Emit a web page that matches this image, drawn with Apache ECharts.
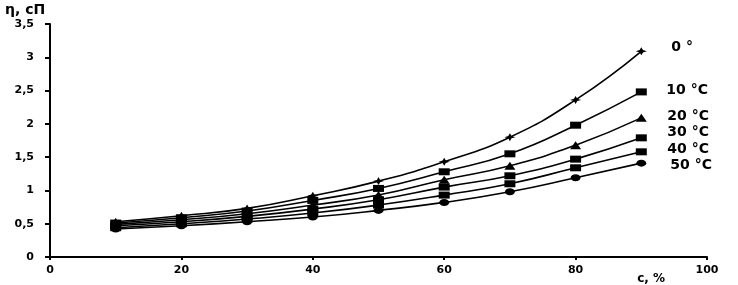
<!DOCTYPE html>
<html><head><meta charset="utf-8">
<script src="https://cdn.jsdelivr.net/npm/echarts@6/dist/echarts.min.js"></script>
<style>html,body{margin:0;padding:0;background:#fff}#c{width:738px;height:285px}</style>
</head><body><div id="c"></div>
<script>
const concentrations = [10, 20, 30, 40, 50, 60, 70, 80, 90];
const seriesNames = ['0 °', '10 °C', '20 °C', '30 °C', '40 °C', '50 °C'];
const v0  = [0.53, 0.62, 0.73, 0.92, 1.14, 1.43, 1.80, 2.36, 3.09];
const v10 = [0.51, 0.59, 0.69, 0.85, 1.03, 1.28, 1.55, 1.98, 2.48];
const v20 = [0.49, 0.56, 0.65, 0.78, 0.93, 1.16, 1.37, 1.68, 2.09];
const v30 = [0.47, 0.53, 0.61, 0.72, 0.86, 1.05, 1.22, 1.47, 1.79];
const v40 = [0.44, 0.50, 0.57, 0.66, 0.78, 0.93, 1.10, 1.34, 1.58];
const v50 = [0.42, 0.47, 0.53, 0.60, 0.70, 0.82, 0.98, 1.19, 1.41];
const yTickLabels = ['0', '0,5', '1', '1,5', '2', '2,5', '3', '3,5'];
const xTickLabels = ['0', '20', '40', '60', '80', '100'];

const values = [v0, v10, v20, v30, v40, v50];
const star = 'path://M0,-10 L3,-3 L10,0 L3,3 L0,10 L-3,3 L-10,0 L-3,-3 Z';
const symbols = [star, 'rect', 'triangle', 'rect', 'rect', 'circle'];
const symSizes = [[11, 8], [11, 7], [11, 8], [11, 7], [11, 7], [10, 7]];
const labelOffsets = [[22, -4], [17, -2], [18, -2], [18, -5], [18, -2], [21, 2]];
const font = '"DejaVu Sans", Verdana, sans-serif';

const chart = echarts.init(document.getElementById('c'));
chart.setOption({
  animation: false,
  backgroundColor: '#fff',
  grid: { left: 50, right: 31, top: 24, bottom: 28, containLabel: false, outerBoundsMode: 'none' },
  title: {
    text: 'η, cП', left: 0, top: -2,
    textStyle: { fontFamily: font, fontWeight: 'bold', fontSize: 14, color: '#000' }
  },
  xAxis: {
    type: 'value', min: 0, max: 100, interval: 20,
    name: 'c, %', nameLocation: 'end', nameGap: 0,
    nameTextStyle: { fontFamily: font, fontWeight: 'bold', fontSize: 12, color: '#000',
      align: 'right', verticalAlign: 'top', padding: [16, 42, 0, 0] },
    axisLine: { lineStyle: { color: '#000', width: 2 } },
    axisTick: { show: true, length: 3, lineStyle: { color: '#000', width: 2 } },
    axisLabel: { color: '#000', fontFamily: font, fontWeight: 'bold', fontSize: 11, margin: 8,
      formatter: (v) => xTickLabels[Math.round(v / 20)] },
    splitLine: { show: false }
  },
  yAxis: {
    type: 'value', min: 0, max: 3.5, interval: 0.5,
    axisLine: { show: true, lineStyle: { color: '#000', width: 2 } },
    axisTick: { show: true, length: 5, lineStyle: { color: '#000', width: 2 } },
    axisLabel: { color: '#000', fontFamily: font, fontWeight: 'bold', fontSize: 11, margin: 16,
      formatter: (v) => yTickLabels[Math.round(v * 2)] },
    splitLine: { show: false }
  },
  series: seriesNames.map((n, i) => ({
    name: n, type: 'line', smooth: true,
    data: concentrations.map((c, j) => [c, values[i][j]]),
    symbol: symbols[i], symbolSize: symSizes[i],
    itemStyle: { color: '#000' },
    lineStyle: { color: '#000', width: 1.6 },
    endLabel: {
      show: true, formatter: n, color: '#000', offset: labelOffsets[i],
      fontFamily: font, fontWeight: 'bold', fontSize: 14
    }
  }))
});
</script></body></html>
